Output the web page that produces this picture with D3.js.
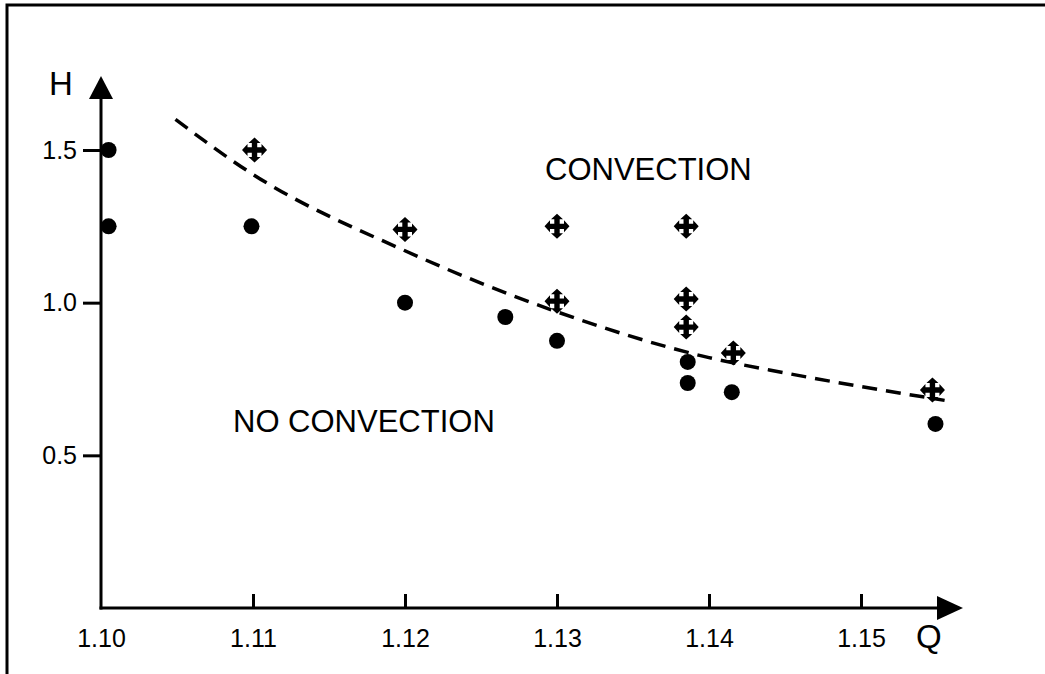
<!DOCTYPE html>
<html>
<head>
<meta charset="utf-8">
<script src="https://cdn.jsdelivr.net/npm/d3@7"></script>
<style>
	body { margin: 0; background: #fff; }
	svg { display: block; font-family: "Liberation Sans", Arial, sans-serif; }
	.axis text { font-size: 25px; fill: #000; }
</style>
</head>
<body>
<div class="chart"></div>
<script>
// data
let xTicks = [1.10, 1.11, 1.12, 1.13, 1.14, 1.15];
let yTicks = [0.5, 1.0, 1.5];

// no convection (filled dots)
let dotQ = [1.1005, 1.1005, 1.1099, 1.12, 1.1266, 1.13, 1.1386, 1.1386, 1.1415, 1.1549];
let dotH = [1.50, 1.25, 1.25, 1.00, 0.953, 0.875, 0.806, 0.737, 0.707, 0.603];

// convection (cross arrows)
let crossQ = [1.1101, 1.12, 1.13, 1.13, 1.1385, 1.1385, 1.1385, 1.1416, 1.1547];
let crossH = [1.50, 1.24, 1.25, 1.005, 1.25, 1.012, 0.92, 0.835, 0.714];

// dashed boundary
let curveQ = [1.1049, 1.11, 1.12, 1.13, 1.14, 1.145, 1.1555];
let curveH = [1.60, 1.42, 1.17, 0.97, 0.82, 0.77, 0.68];

let outWidth = 1045, outHeight = 674;

const svg = d3.select('.chart').append('svg')
	.attr("width", outWidth)
	.attr("height", outHeight);

// frame (only left and top visible)
svg.append("path")
	.attr("d", `M7,${outHeight} L7,5 L${outWidth},5`)
	.attr("fill", "none")
	.attr("stroke", "#000")
	.attr("stroke-width", 3);

const x = d3.scaleLinear()
	.domain([1.10, 1.15])
	.range([101, 861]);
const y = d3.scaleLinear()
	.domain([0, 1.5])
	.range([608, 150]);

const xAxis = d3.axisBottom(x)
	.tickValues(xTicks)
	.tickFormat(d3.format(".2f"))
	.tickSizeInner(-14)
	.tickSizeOuter(0)
	.tickPadding(21);
const yAxis = d3.axisLeft(y)
	.tickValues(yTicks)
	.tickFormat(d3.format(".1f"))
	.tickSizeInner(18)
	.tickSizeOuter(0)
	.tickPadding(6);

const gx = svg.append("g")
	.attr("class", "axis x-axis")
	.attr("transform", `translate(0, ${y(0)})`)
	.call(xAxis);
gx.select(".domain").remove();
gx.selectAll(".tick line").attr("stroke-width", 3).filter(d => d === 1.10).remove();

const gy = svg.append("g")
	.attr("class", "axis y-axis")
	.attr("transform", `translate(${x(1.10)}, 0)`)
	.call(yAxis);
gy.select(".domain").remove();
gy.selectAll(".tick line").attr("stroke-width", 3);

// axis lines with arrow heads
let x0 = x(1.10), y0 = y(0);
let xEnd = 940, yEnd = 97;
svg.append("line")
	.attr("x1", x0 - 1.5).attr("y1", y0)
	.attr("x2", xEnd).attr("y2", y0)
	.attr("stroke", "#000").attr("stroke-width", 3);
svg.append("line")
	.attr("x1", x0).attr("y1", y0 + 1.5)
	.attr("x2", x0).attr("y2", yEnd)
	.attr("stroke", "#000").attr("stroke-width", 3);
svg.append("path")
	.attr("d", `M${xEnd - 3},${y0 - 12} L${xEnd + 23},${y0} L${xEnd - 3},${y0 + 12} Z`)
	.attr("fill", "#000");
svg.append("path")
	.attr("d", `M${x0 - 12},${yEnd + 2} L${x0},${yEnd - 21} L${x0 + 12},${yEnd + 2} Z`)
	.attr("fill", "#000");

svg.append("text")
	.attr("x", x0 - 52).attr("y", 95)
	.attr("font-size", 33)
	.text("H");
svg.append("text")
	.attr("x", 916).attr("y", 648)
	.attr("font-size", 33)
	.text("Q");

// dashed boundary
const line = d3.line()
	.x((d, i) => x(curveQ[i]))
	.y(d => y(d))
	.curve(d3.curveMonotoneX);
svg.append("path")
	.attr("d", line(curveH))
	.attr("fill", "none")
	.attr("stroke", "#000")
	.attr("stroke-width", 3.5)
	.attr("stroke-dasharray", "15,9");

// dots
svg.selectAll("circle.dot")
	.data(dotH)
	.enter()
	.append("circle")
	.attr("class", "dot")
	.attr("cx", (d, i) => x(dotQ[i]))
	.attr("cy", d => y(d))
	.attr("r", 8)
	.attr("fill", "#000");

// four-way arrow symbol
const crossPath = "M0,-12.5 L6,-7 L2.7,-7 L2.7,-2.7 L7,-2.7 L7,-6 L12.5,0 L7,6 L7,2.7 L2.7,2.7 L2.7,7 L6,7 L0,12.5 L-6,7 L-2.7,7 L-2.7,2.7 L-7,2.7 L-7,6 L-12.5,0 L-7,-6 L-7,-2.7 L-2.7,-2.7 L-2.7,-7 L-6,-7 Z";
svg.selectAll("path.cross")
	.data(crossH)
	.enter()
	.append("path")
	.attr("class", "cross")
	.attr("d", crossPath)
	.attr("transform", (d, i) => `translate(${x(crossQ[i])}, ${y(d)})`)
	.attr("fill", "#000");

svg.append("text")
	.attr("x", 545).attr("y", 180)
	.attr("font-size", 31)
	.text("CONVECTION");
svg.append("text")
	.attr("x", 233).attr("y", 432)
	.attr("font-size", 31)
	.text("NO CONVECTION");
</script>
</body>
</html>
